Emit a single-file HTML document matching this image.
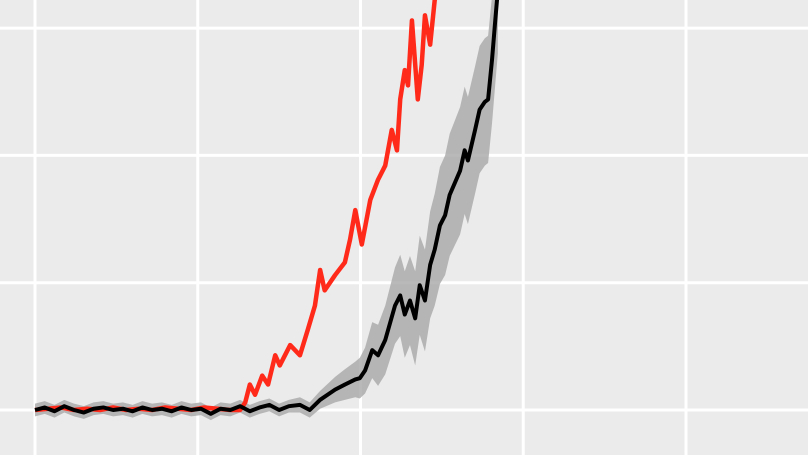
<!DOCTYPE html>
<html><head><meta charset="utf-8"><style>
html,body{margin:0;padding:0;background:#EBEBEB;}
svg{display:block;}
</style></head><body>
<svg id="chart" width="808" height="455" viewBox="0 0 808 455" xmlns="http://www.w3.org/2000/svg">
<rect x="0" y="0" width="808" height="455" fill="#EBEBEB"/>
<g id="grid"></g>
<g id="series"></g>
</svg>
<script>
const xGrid = [0, 25, 50, 75, 100];
const yGrid = [0, 1, 2, 3];
const redX = [0,2,4,6,8,10,12,14,16,18,20,22,24,26,28,30,31.5,32.3,33.0,33.8,34.9,35.8,36.9,37.6,39.2,40.7,41.9,43.0,43.8,44.5,46.1,47.6,48.4,49.2,50.2,51.5,52.7,53.8,54.8,55.6,56.1,56.8,57.3,57.9,58.8,59.4,59.9,60.7,61.4,62.2];
const redY = [0.0,0.01,0.02,0.0,0.01,0.0,0.02,0.0,0.01,0.0,0.02,0.01,0.0,0.02,0.01,0.0,0.0,0.06,0.20,0.12,0.27,0.20,0.43,0.35,0.51,0.43,0.63,0.82,1.10,0.94,1.06,1.16,1.34,1.57,1.30,1.65,1.81,1.92,2.20,2.04,2.44,2.67,2.55,3.06,2.44,2.71,3.10,2.87,3.22,3.35];
const blackX = [0,1.5,3,4.5,6,7.5,9,10.5,12,13.5,15,16.5,18,19.5,21,22.5,24,25.5,27,28.5,30,31.5,33,34.5,36,37.5,39,40.7,42.2,43.8,46.1,47.6,49.2,49.9,50.7,51.8,52.7,53.8,55.3,56.1,56.8,57.6,58.4,59.1,59.9,60.7,61.4,62.2,63.0,63.7,65.3,66.0,66.5,67.6,68.3,69.1,69.6,70.2,70.7,71.1];
const blackY = [0.0,0.02,-0.01,0.03,0.0,-0.02,0.01,0.02,0.0,0.01,-0.01,0.02,0.0,0.01,-0.01,0.02,0.0,0.01,-0.03,0.01,0.0,0.03,-0.01,0.02,0.04,0.0,0.03,0.04,0.0,0.08,0.16,0.20,0.24,0.25,0.31,0.47,0.43,0.55,0.82,0.90,0.75,0.86,0.72,0.98,0.86,1.14,1.26,1.45,1.53,1.69,1.88,2.04,1.96,2.20,2.36,2.42,2.44,2.75,3.06,3.30];
const bandHalf = [0.05,0.05,0.05,0.05,0.05,0.05,0.05,0.05,0.05,0.05,0.05,0.05,0.05,0.05,0.05,0.05,0.05,0.05,0.05,0.05,0.05,0.05,0.05,0.05,0.05,0.05,0.05,0.06,0.06,0.07,0.1,0.12,0.14,0.16,0.18,0.22,0.24,0.27,0.3,0.32,0.34,0.35,0.37,0.39,0.4,0.42,0.44,0.46,0.47,0.48,0.5,0.5,0.5,0.5,0.5,0.5,0.5,0.5,0.5,0.5];

const X0 = 35, XU = 6.51, Y0 = 410, YU = 127.3;
function sx(v){ return X0 + v * XU; }
function sy(v){ return Y0 - v * YU; }
const NS = 'http://www.w3.org/2000/svg';
const grid = document.getElementById('grid');
const series = document.getElementById('series');

xGrid.forEach(v => {
  const l = document.createElementNS(NS, 'line');
  l.setAttribute('x1', sx(v)); l.setAttribute('x2', sx(v));
  l.setAttribute('y1', 0); l.setAttribute('y2', 455);
  l.setAttribute('stroke', '#fff'); l.setAttribute('stroke-width', 3);
  
  
  grid.appendChild(l);
});
yGrid.forEach(v => {
  const l = document.createElementNS(NS, 'line');
  l.setAttribute('x1', 0); l.setAttribute('x2', 808);
  l.setAttribute('y1', sy(v)); l.setAttribute('y2', sy(v));
  l.setAttribute('stroke', '#fff'); l.setAttribute('stroke-width', 3);
  
  
  grid.appendChild(l);
});

let d = '';
blackX.forEach((x, i) => { d += (i ? 'L' : 'M') + sx(x) + ',' + sy(blackY[i] + bandHalf[i]); });
for (let i = blackX.length - 1; i >= 0; i--) { d += 'L' + sx(blackX[i]) + ',' + sy(blackY[i] - bandHalf[i]); }
d += 'Z';
const band = document.createElementNS(NS, 'path');
band.setAttribute('d', d);
band.setAttribute('fill', '#A8A8A8'); band.setAttribute('fill-opacity', '0.8');


series.appendChild(band);

function line(xs, ys, color, w){
  const p = document.createElementNS(NS, 'path');
  p.setAttribute('d', xs.map((x, i) => (i ? 'L' : 'M') + sx(x) + ',' + sy(ys[i])).join(''));
  p.setAttribute('fill', 'none'); p.setAttribute('stroke', color);
  p.setAttribute('stroke-width', w); p.setAttribute('stroke-linejoin', 'round');
  return p;
}
const red = line(redX, redY, '#FF2A1A', 4.5);


series.appendChild(red);
const black = line(blackX, blackY, '#000', 4);


series.appendChild(black);
</script>
</body></html>
